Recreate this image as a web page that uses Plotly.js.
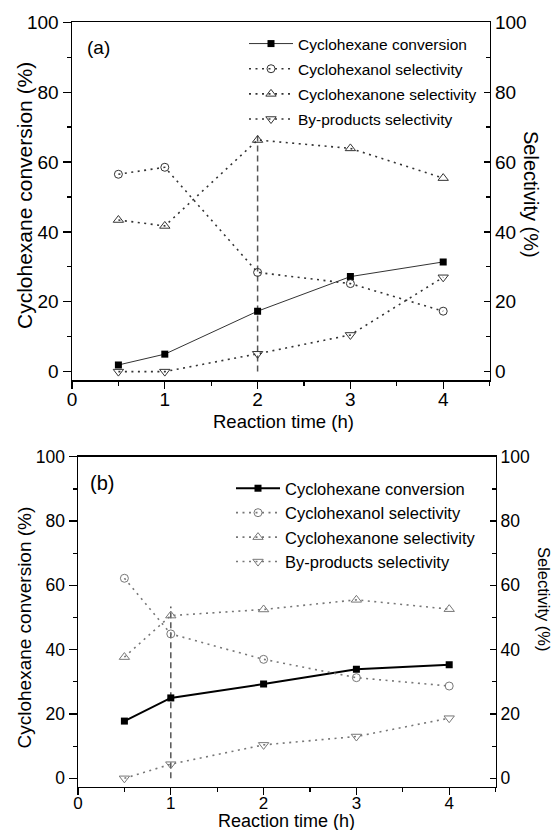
<!DOCTYPE html>
<html>
<head>
<meta charset="utf-8">
<script src="https://cdn.plot.ly/plotly-3.0.1.min.js"></script>
<style>html,body{margin:0;padding:0;background:#fff;}#chart{width:554px;height:830px;}</style>
</head>
<body>
<div id="chart"></div>
<script>
// ---- data ----
const timeA = [0.5, 1, 2, 3, 4];
const convA = [1.9, 5.0, 17.3, 27.2, 31.4];
const olA   = [56.5, 58.5, 28.4, 25.2, 17.3];
const oneA  = [43.4, 41.7, 66.3, 63.9, 55.4];
const byA   = [0, 0, 5.1, 10.5, 27.0];
const guideA_x = [2, 2];
const guideA_y = [0, 68.6];

const timeB = [0.5, 1, 2, 3, 4];
const convB = [17.8, 25.0, 29.3, 33.9, 35.3];
const olB   = [62.2, 44.9, 37.0, 31.3, 28.7];
const oneB  = [37.7, 50.6, 52.5, 55.5, 52.6];
const byB   = [0, 4.4, 10.4, 13.0, 18.7];
const guideB_x = [1, 1];
const guideB_y = [0, 53.4];

const seriesNames = ['Cyclohexane conversion', 'Cyclohexanol selectivity', 'Cyclohexanone selectivity', 'By-products selectivity'];
const panelLabels = ['(a)', '(b)'];
const xTitle = 'Reaction time (h)';
const yLeftTitle = 'Cyclohexane conversion (%)';
const yRightTitle = 'Selectivity (%)';

// ---- layout helpers ----
const W = 554, H = 830;
const px = v => v / W;
const py = v => 1 - v / H;
const FONT = 'Liberation Sans, Arial, sans-serif';

function panelTraces(t, conv, ol, one, by, gx, gy, xa, yl, yr, leg, tag, selColor, convWidth, convColor) {
  const dotted = '2px,4.5px';
  return [
    {x: gx, y: gy, xaxis: xa, yaxis: yl, mode: 'lines', showlegend: false, hoverinfo: 'skip',
     line: {color: '#555', width: 1.5, dash: '6px,4px'}},
    {x: t, y: conv, name: seriesNames[0], xaxis: xa, yaxis: yl, mode: 'lines+markers', legend: leg, legendgroup: tag + '0',
     line: {color: convColor, width: convWidth}, marker: {symbol: 'square', size: 7, color: '#000'}},
    {x: t, y: ol, name: seriesNames[1], xaxis: xa, yaxis: yr, mode: 'lines+markers', legend: leg, legendgroup: tag + '1',
     line: {color: selColor, width: 1.6, dash: dotted},
     marker: {symbol: 'circle-open', size: 8, color: selColor, line: {width: 1}}},
    {x: t, y: one, name: seriesNames[2], xaxis: xa, yaxis: yr, mode: 'lines+markers', legend: leg, legendgroup: tag + '2',
     line: {color: selColor, width: 1.6, dash: dotted},
     marker: {symbol: 'triangle-up-open', size: 9, color: selColor, line: {width: 1}}},
    {x: t, y: by, name: seriesNames[3], xaxis: xa, yaxis: yr, mode: 'lines+markers', legend: leg, legendgroup: tag + '3',
     line: {color: selColor, width: 1.6, dash: dotted},
     marker: {symbol: 'triangle-down-open', size: 9, color: selColor, line: {width: 1}}}
  ];
}

const data = [].concat(
  panelTraces(timeA, convA, olA, oneA, byA, guideA_x, guideA_y, 'x', 'y', 'y2', 'legend', 'a', '#333', 1, '#333'),
  panelTraces(timeB, convB, olB, oneB, byB, guideB_x, guideB_y, 'x2', 'y3', 'y4', 'legend2', 'b', '#777', 2, '#000')
);

function xAxis(domain, anchor, fs, standoff) {
  return {domain: domain, anchor: anchor, range: [0, 4.5], dtick: 1, tick0: 0,
    showline: true, linecolor: '#000', linewidth: 1.5, mirror: true, showgrid: false, zeroline: false,
    ticks: 'outside', ticklen: 7, tickwidth: 1.3, tickcolor: '#000', ticklabelstandoff: standoff,
    minor: {dtick: 0.5, ticks: 'outside', ticklen: 4, tickwidth: 1.3, tickcolor: '#000'},
    tickfont: {family: FONT, size: fs, color: '#000'}, fixedrange: true};
}
function yLeft(domain, anchor, rng, fs) {
  return {domain: domain, anchor: anchor, range: rng, dtick: 20, tick0: 0,
    showline: true, linecolor: '#000', linewidth: 1.5, showgrid: false, zeroline: false,
    ticks: 'outside', ticklen: 8, tickwidth: 1.3, tickcolor: '#000',
    minor: {dtick: 10, ticks: 'outside', ticklen: 4, tickwidth: 1.3, tickcolor: '#000'},
    tickfont: {family: FONT, size: fs, color: '#000'}, fixedrange: true};
}
function yRight(over, anchor, rng, fs) {
  return {overlaying: over, anchor: anchor, side: 'right', range: rng, dtick: 20, tick0: 0,
    showline: true, linecolor: '#000', linewidth: 1.5, showgrid: false, zeroline: false,
    ticks: 'inside', ticklen: 6, tickwidth: 1.3, tickcolor: '#000',
    minor: {dtick: 10, ticks: 'inside', ticklen: 4, tickwidth: 1.3, tickcolor: '#000'},
    tickfont: {family: FONT, size: fs, color: '#000'}, fixedrange: true};
}

const ann = (text, x, y, size, angle) => ({text: text, xref: 'paper', yref: 'paper', x: x, y: y,
  xanchor: 'center', yanchor: 'middle', showarrow: false, textangle: angle || 0,
  font: {family: FONT, size: size, color: '#000'}});

const layout = {
  width: W, height: H,
  margin: {l: 0, r: 0, t: 0, b: 0, pad: 0},
  paper_bgcolor: '#fff', plot_bgcolor: '#fff',
  showlegend: true,
  xaxis: xAxis([px(72), px(489.6)], 'y', 19, -5),
  yaxis: yLeft([py(380), py(22.3)], 'x', [-2.4, 100], 19),
  yaxis2: yRight('y', 'x', [-2.4, 100], 19),
  xaxis2: xAxis([px(78), px(495.6)], 'y3', 17, -7),
  yaxis3: yLeft([py(786.7), py(456.7)], 'x2', [-2.6, 100], 17.5),
  yaxis4: yRight('y3', 'x2', [-2.6, 100], 17.5),
  legend: {x: px(244), y: py(27), xanchor: 'left', yanchor: 'top', bgcolor: 'rgba(0,0,0,0)',
    font: {family: FONT, size: 15.5, color: '#000'}, itemwidth: 44, tracegroupgap: 2},
  legend2: {x: px(231), y: py(471), xanchor: 'left', yanchor: 'top', bgcolor: 'rgba(0,0,0,0)',
    font: {family: FONT, size: 16.5, color: '#000'}, itemwidth: 44, tracegroupgap: 0},
  annotations: [
    ann(panelLabels[0], px(98), py(47.5), 19),
    ann(panelLabels[1], px(102), py(483), 20),
    ann(yLeftTitle, px(25), py(196), 21, -90),
    ann(yLeftTitle, px(24), py(627.5), 19, -90),
    ann(yRightTitle, px(531), py(194), 20, 90),
    ann(yRightTitle, px(544), py(599), 16.5, 90),
    ann(xTitle, px(283), py(421), 18.5),
    ann(xTitle, px(286), py(821), 18)
  ]
};

Plotly.newPlot('chart', data, layout, {displayModeBar: false, staticPlot: true});
</script>
</body>
</html>
